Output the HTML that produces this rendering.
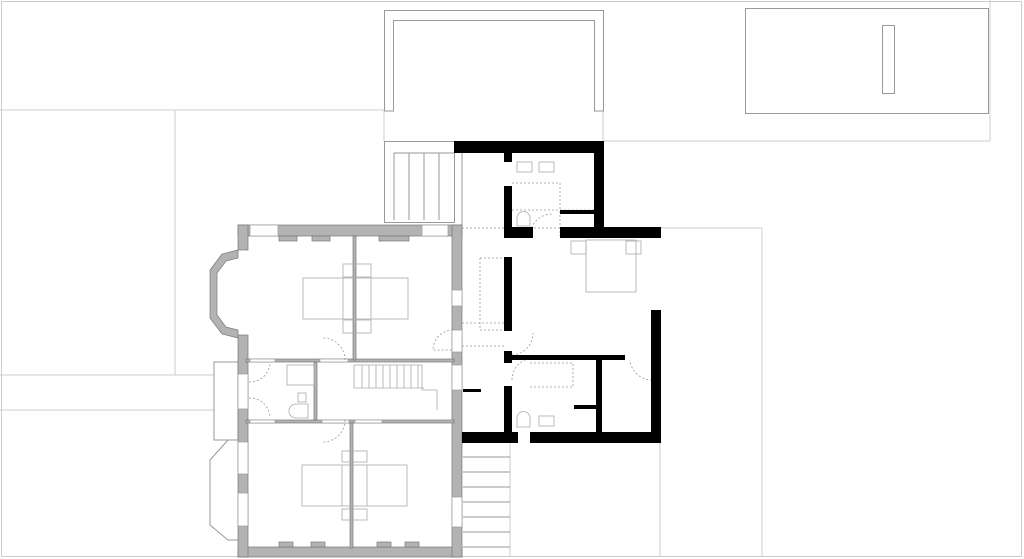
<!DOCTYPE html>
<html><head><style>html,body{margin:0;padding:0;background:#fff}svg{display:block}</style></head><body>
<svg width="1024" height="559" viewBox="0 0 1024 559" xmlns="http://www.w3.org/2000/svg">
<g fill="none" stroke="#ccc" stroke-width="1">
<rect x="1.5" y="1.5" width="1020" height="555"/>
<line x1="0" y1="110" x2="384" y2="110"/>
<line x1="175" y1="110" x2="175" y2="375"/>
<line x1="0" y1="375" x2="214" y2="375"/>
<line x1="0" y1="410" x2="214" y2="410"/>
<line x1="603" y1="141" x2="990" y2="141"/>
<line x1="990" y1="0" x2="990" y2="141"/>
<line x1="384" y1="110" x2="384" y2="141"/>
<line x1="603" y1="110" x2="603" y2="141"/>
<line x1="660" y1="228" x2="762" y2="228"/>
<line x1="762" y1="228" x2="762" y2="557"/>
<line x1="660" y1="440" x2="660" y2="557"/>
<line x1="510" y1="442" x2="510" y2="557"/>
</g>
<g fill="none" stroke="#999" stroke-width="1">
<path d="M384.5 111V10.5H603.5V111H594.5V20.5H393.5V111Z"/>
<rect x="745.5" y="8.5" width="243" height="105"/>
<rect x="882.5" y="25.5" width="12" height="68"/>
<rect x="384.5" y="141.5" width="70" height="81"/>
<path d="M394 153V220M409 153V220M424 153V220M439 153V220M394 153H454"/>
<path d="M214 362H238V440H214Z M238 440H228L210 460V525L228 540H238"/>
<path d="M463 442H510M463 457H510M463 472H510M463 487H510M463 502H510M463 517H510M463 532H510M463 547H510"/>
<path d="M455 228V380M462 152V230"/>
</g>
<g fill="#b3b3b3" stroke="#777" stroke-width="0.7">
<rect x="238" y="225" width="224" height="11"/>
<rect x="238" y="547" width="224" height="10"/>
<rect x="238" y="225" width="10" height="25"/>
<rect x="238" y="335" width="10" height="222"/>
<rect x="452" y="225" width="10" height="332"/>
<path d="M238 250L222 254L210 270V318L222 334L238 338V330L226 327L217 315V273L226 261L238 258Z"/>
<rect x="246" y="359" width="208" height="3"/>
<rect x="246" y="420" width="208" height="3"/>
<rect x="353" y="236" width="3" height="124"/>
<rect x="350" y="423" width="3" height="125"/>
<rect x="314" y="362" width="3" height="58"/>
<rect x="279" y="236" width="18" height="5"/><rect x="312" y="236" width="18" height="5"/><rect x="379" y="236" width="30" height="5"/>
<rect x="279" y="542" width="14" height="5"/><rect x="311" y="542" width="14" height="5"/><rect x="377" y="542" width="14" height="5"/><rect x="405" y="542" width="14" height="5"/>
</g>
<g fill="#fff" stroke="#999" stroke-width="0.7">
<rect x="250" y="225" width="28" height="11"/>
<rect x="422" y="225" width="26" height="11"/>
<rect x="238" y="374" width="10" height="35"/>
<rect x="238" y="442" width="10" height="32"/>
<rect x="238" y="493" width="10" height="33"/>
<rect x="452" y="290" width="10" height="16"/>
<rect x="452" y="330" width="10" height="22"/>
<rect x="452" y="365" width="10" height="25"/>
<rect x="452" y="497" width="10" height="30"/>
<rect x="250" y="359" width="25" height="3"/><rect x="320" y="359" width="28" height="3"/>
<rect x="250" y="420" width="25" height="3"/><rect x="322" y="420" width="27" height="3"/><rect x="355" y="420" width="27" height="3"/>
</g>
<g fill="none" stroke="#aaa" stroke-width="0.8">
<rect x="303" y="278" width="105" height="41"/><rect x="343" y="264" width="28" height="13"/><rect x="343" y="320" width="28" height="13"/><line x1="343" y1="278" x2="343" y2="319"/><line x1="371" y1="278" x2="371" y2="319"/>
<rect x="302" y="465" width="105" height="41"/><rect x="342" y="451" width="25" height="11"/><rect x="342" y="509" width="25" height="11"/><line x1="342" y1="465" x2="342" y2="506"/><line x1="367" y1="465" x2="367" y2="506"/>
<rect x="287" y="365" width="27" height="20"/><rect x="298" y="393" width="8" height="9"/><path d="M308 418H296A7 7 0 0 1 296 404H308Z"/>
<path d="M354 365H422V390H437V410M354 365V388H424"/><path d="M362 365V388M369 365V388M376 365V388M383 365V388M390 365V388M397 365V388M404 365V388M411 365V388M418 365V388"/>
<rect x="586" y="240" width="50" height="52"/><rect x="571" y="241" width="15" height="13"/><rect x="626" y="241" width="15" height="13"/>
<rect x="517" y="162" width="15" height="10"/><rect x="539" y="162" width="15" height="10"/>
<rect x="539" y="416" width="15" height="10"/>
<path d="M517 226V218A6 6 0 0 1 530 218V226Z"/><path d="M517 427V418A6 6 0 0 1 530 418V427Z"/>
</g>
<g fill="none" stroke="#999" stroke-width="0.8" stroke-dasharray="2,2">
<path d="M249 382A20 20 0 0 0 270 362M249 398A20 20 0 0 1 270 418"/>
<path d="M345 360A22 22 0 0 0 323 338M345 420A22 22 0 0 1 323 442"/>
<path d="M453 330A20 20 0 0 0 433 350H453"/>
<path d="M462 228H660M480 258H505V330H480V258M462 323H505M462 346H505"/>
<path d="M512 355A22 22 0 0 0 533 333M512 380A22 22 0 0 1 533 358"/>
<path d="M512 183H560V236M512 210H595M530 236A22 22 0 0 1 553 214"/>
<path d="M530 363H573V387H530M652 380A22 22 0 0 1 630 360"/>
</g>
<g fill="#000">
<rect x="454" y="141" width="150" height="12"/>
<rect x="504" y="153" width="8" height="9"/>
<rect x="504" y="186" width="8" height="52"/>
<rect x="594" y="141" width="10" height="97"/>
<rect x="504" y="227" width="29" height="11"/>
<rect x="560" y="227" width="101" height="11"/>
<rect x="560" y="210" width="37" height="4"/>
<rect x="504" y="257" width="8" height="74"/>
<rect x="504" y="351" width="8" height="12"/>
<rect x="651" y="310" width="10" height="133"/>
<rect x="504" y="355" width="121" height="5"/>
<rect x="504" y="386" width="8" height="57"/>
<rect x="462" y="432" width="56" height="11"/>
<rect x="530" y="432" width="131" height="11"/>
<rect x="596" y="360" width="6" height="72"/>
<rect x="574" y="405" width="23" height="4"/>
<rect x="463" y="389" width="18" height="3"/>
</g>
</svg>
</body></html>
